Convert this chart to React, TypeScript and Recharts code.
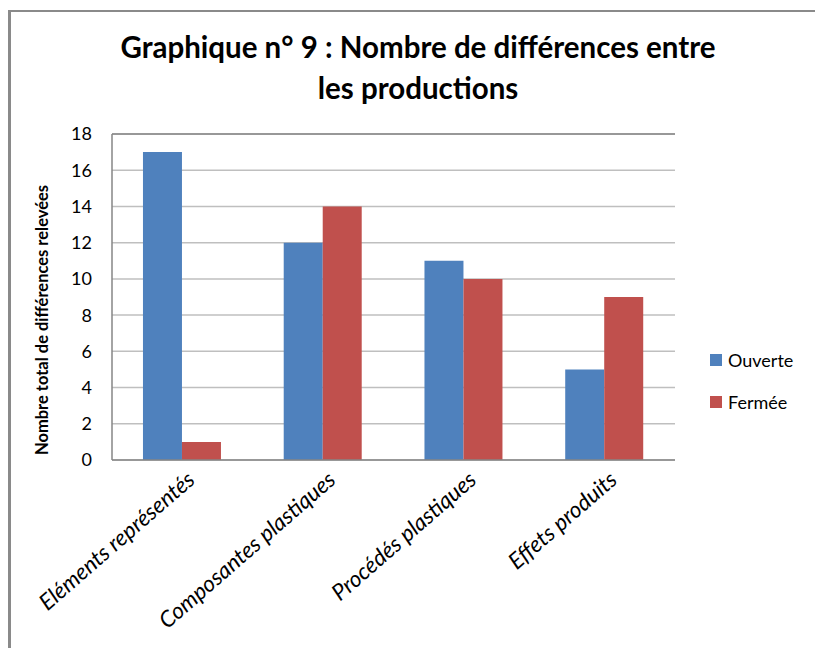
import React from 'react';
import {
  BarChart,
  Bar,
  XAxis,
  YAxis,
  CartesianGrid,
  ReferenceLine,
} from 'recharts';

// Categories and values
const categories = [
  'Eléments représentés',
  'Composantes plastiques',
  'Procédés plastiques',
  'Effets produits',
];
const ouverte = [17, 12, 11, 5];
const fermee = [1, 14, 10, 9];
const yTicks = [0, 2, 4, 6, 8, 10, 12, 14, 16, 18];
const seriesNames = ['Ouverte', 'Fermée'];
const seriesColors = ['#4F81BD', '#C0504D'];

const FONT = 'Lato, "Open Sans", sans-serif';

const data = categories.map((name, i) => ({
  name,
  Ouverte: ouverte[i],
  Fermée: fermee[i],
}));

// Rotated, italic category labels
const XTick = (props: any) => {
  const { x, y, payload } = props;
  return (
    <g transform={`translate(${x + 14},${y + 14})`}>
      <text
        textAnchor="end"
        transform="rotate(-41)"
        fontSize={22.5}
        fontStyle="italic"
        fill="#000"
        fontFamily={FONT}
      >
        {payload.value}
      </text>
    </g>
  );
};

const App = () => {
  return (
    <div
      style={{
        position: 'absolute',
        left: 0,
        top: 0,
        width: 815,
        height: 648,
        background: '#fff',
      }}
    >
      {/* chart frame (only left and top edges visible) */}
      <div
        style={{
          position: 'absolute',
          left: 8,
          top: 10,
          width: 807,
          height: 638,
          borderLeft: '3px solid #8a8a8a',
          borderTop: '2px solid #8a8a8a',
        }}
      />
      <div
        style={{
          position: 'absolute',
          left: 40,
          top: 26,
          width: 756,
          textAlign: 'center',
          fontFamily: FONT,
          fontWeight: 700,
          fontSize: 29.5,
          lineHeight: '41px',
          color: '#000',
        }}
      >
        Graphique n° 9 : Nombre de différences entre
        <br />
        les productions
      </div>
      <div style={{ position: 'absolute', left: 0, top: 0 }}>
        <BarChart
          width={815}
          height={648}
          data={data}
          margin={{ top: 134, right: 140, left: 42, bottom: 8 }}
          barCategoryGap="22%"
          barGap={0}
        >
          <CartesianGrid vertical={false} stroke="#BFBFBF" strokeWidth={1.5} />
          <ReferenceLine y={18} stroke="#868686" strokeWidth={1.5} />
          <XAxis
            dataKey="name"
            height={180}
            interval={0}
            tick={<XTick />}
            tickLine={false}
            axisLine={{ stroke: '#868686', strokeWidth: 1.5 }}
          />
          <YAxis
            width={70}
            domain={[0, 18]}
            ticks={yTicks}
            tickSize={0}
            tickMargin={20}
            tickLine={false}
            axisLine={{ stroke: '#868686', strokeWidth: 1.5 }}
            tick={{ fontSize: 18, fill: '#000', fontFamily: FONT }}
          />
          {seriesNames.map((s, i) => (
            <Bar key={s} dataKey={s} fill={seriesColors[i]} isAnimationActive={false} />
          ))}
        </BarChart>
      </div>
      {/* y axis title */}
      <svg
        width={60}
        height={648}
        style={{ position: 'absolute', left: 0, top: 0 }}
      >
        <text
          x={0}
          y={0}
          transform="translate(48,320) rotate(-90)"
          textAnchor="middle"
          fontSize={16.5}
          fontWeight={700}
          fontFamily={FONT}
          fill="#000"
        >
          Nombre total de différences relevées
        </text>
      </svg>
      {/* legend */}
      <div
        style={{
          position: 'absolute',
          left: 710,
          top: 339,
          fontFamily: FONT,
          fontSize: 18,
          color: '#000',
        }}
      >
        {seriesNames.map((s, i) => (
          <div key={s} style={{ display: 'flex', alignItems: 'center', height: 42 }}>
            <span
              style={{
                display: 'inline-block',
                width: 12,
                height: 12,
                background: seriesColors[i],
                marginRight: 6,
              }}
            />
            {s}
          </div>
        ))}
      </div>
    </div>
  );
};

export default App;
